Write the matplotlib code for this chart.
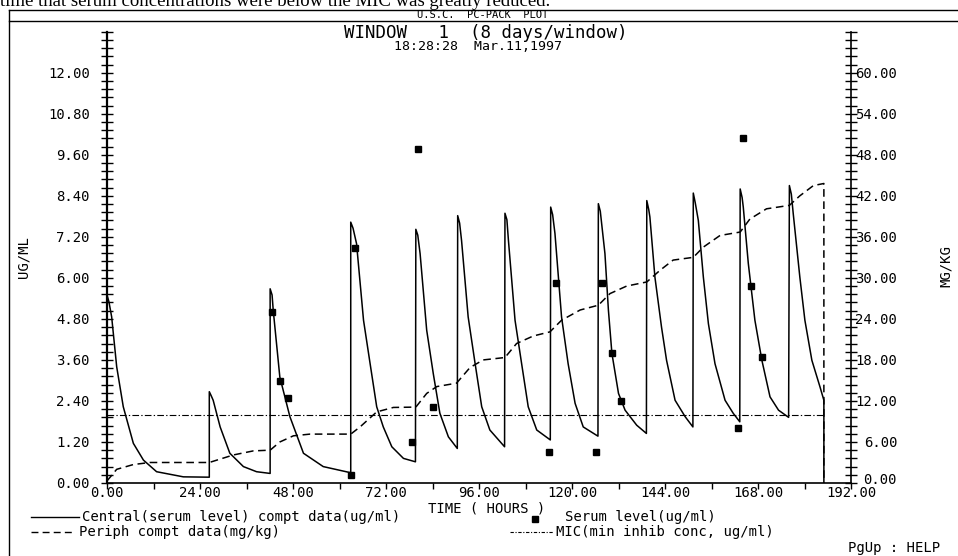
import numpy as np
import matplotlib.pyplot as plt
from matplotlib.lines import Line2D
from matplotlib.ticker import MultipleLocator, FuncFormatter

# central compartment (serum level), ug/ml
central_t = [0, 0, 0.5, 1.2, 2.5, 4.2, 6.8, 9.4, 12.8, 19.7, 26.4,
             26.4, 26.9, 27.4, 29.2, 31.7, 35.2, 38.6, 42.1,
             42.1, 42.6, 42.9, 44.6, 47.2, 50.7, 55.8, 62.9,
             62.9, 63.5, 64.4, 66.2, 67.9, 69.6, 71.3, 73.5, 76.5, 79.6,
             79.7, 80.2, 80.8, 82.5, 84.2, 85.9, 88.1, 90.4,
             90.5, 91.0, 91.5, 93.2, 95.0, 96.7, 98.8, 102.6,
             102.7, 103.2, 103.6, 105.3, 107.0, 108.7, 110.9, 114.4,
             114.5, 115.0, 115.6, 117.3, 119.0, 120.8, 122.9, 126.7,
             126.8, 127.3, 128.5, 129.4, 130.3, 132.0, 133.7, 136.7, 139.2,
             139.3, 139.8, 140.1, 141.4, 143.1, 144.4, 146.6, 149.2, 151.2,
             151.3, 151.8, 152.6, 153.9, 155.2, 156.9, 159.5, 161.6, 163.3,
             163.4, 163.9, 164.2, 165.5, 167.2, 169.0, 171.1, 173.3, 175.9,
             176.1, 176.6, 177.1, 178.8, 180.1, 181.9, 184.0, 185.0, 185.0]
central_v = [0, 5.50, 5.30, 4.86, 3.40, 2.23, 1.16, 0.67, 0.33, 0.18, 0.17,
             2.67, 2.55, 2.42, 1.64, 0.87, 0.48, 0.33, 0.28,
             5.68, 5.50, 5.05, 3.10, 1.94, 0.87, 0.48, 0.30,
             7.63, 7.45, 7.00, 4.76, 3.49, 2.23, 1.64, 1.06, 0.72, 0.62,
             7.42, 7.25, 6.71, 4.47, 3.20, 2.04, 1.35, 1.01,
             7.82, 7.60, 7.09, 4.86, 3.49, 2.23, 1.55, 1.06,
             7.89, 7.70, 7.09, 4.76, 3.49, 2.23, 1.55, 1.26,
             8.07, 7.85, 7.30, 4.86, 3.49, 2.33, 1.64, 1.37,
             8.17, 7.95, 6.71, 5.05, 3.79, 2.62, 2.13, 1.69, 1.45,
             8.26, 8.00, 7.78, 6.02, 4.56, 3.59, 2.42, 1.94, 1.64,
             8.48, 8.20, 7.68, 6.02, 4.66, 3.49, 2.42, 2.04, 1.79,
             8.60, 8.35, 8.07, 6.42, 4.76, 3.59, 2.52, 2.13, 1.92,
             8.70, 8.45, 7.87, 6.02, 4.76, 3.59, 2.81, 2.42, 0]

# peripheral compartment, mg/kg (right axis)
periph_t = [0, 2.5, 6.8, 11.1, 19.7, 26.4, 32.6, 37.8, 42.1, 44.6, 48.1, 52.4,
            62.9, 65.3, 69.6, 73.9, 79.7, 82.5, 85.1, 90.2, 93.7, 97.1, 102.7,
            105.7, 110.0, 114.3, 117.3, 122.1, 126.8, 129.8, 134.1, 139.3,
            142.7, 146.1, 151.3, 153.9, 158.2, 163.4, 165.9, 170.2, 176.1,
            178.8, 182.3, 185.0, 185.0]
periph_v = [0.3, 2.0, 2.7, 3.0, 3.0, 3.0, 4.1, 4.7, 4.8, 6.0, 6.9, 7.15,
            7.15, 8.2, 10.4, 11.05, 11.1, 13.1, 14.1, 14.6, 16.9, 18.0, 18.35,
            20.4, 21.5, 22.1, 23.8, 25.3, 26.0, 27.7, 28.8, 29.4,
            31.1, 32.6, 33.0, 34.5, 36.2, 36.7, 38.6, 40.1, 40.6,
            42.0, 43.5, 43.8, 0]

# measured serum levels
serum_t = [42.7, 44.6, 46.7, 63.0, 64.0, 78.6, 80.3, 84.2, 114.1, 115.8,
           126.1, 127.8, 130.4, 132.6, 162.9, 164.2, 166.1, 169.1]
serum_v = [5.00, 2.98, 2.50, 0.22, 6.88, 1.19, 9.77, 2.21, 0.91, 5.86,
           0.91, 5.86, 3.79, 2.40, 1.60, 10.08, 5.76, 3.69]

mic_t = [0, 185]
mic_v = [2.0, 2.0]

W, H = 958, 556
MONO = 'DejaVu Sans Mono'
fs = 10

fig = plt.figure(figsize=(W / 100, H / 100), dpi=100)


def fx(px):
    return px / W


def fy(py):
    return 1 - py / H


def lab_left(v, pos):
    return '' if v > 12.5 else '%.2f' % v


def lab_right(v, pos):
    # the zero label is drawn separately, a bit higher
    return '' if (v > 62.5 or v < 0.5) else '%.2f' % v


ax = fig.add_axes([fx(107), fy(483), fx(851) - fx(107), fy(31.7) - fy(483)])
ax2 = ax.twinx()

ax.plot(central_t, central_v, color='black', lw=1.1)
ax.plot(mic_t, mic_v, color='black', lw=0.8, dashes=(6, 2, 1.2, 2))
ax.plot(serum_t, serum_v, 's', color='black', ms=5, mec='black')
ax2.plot(periph_t, periph_v, color='black', lw=1.1, dashes=(5, 3))

ax.set_xlim(0, 192)
ax.set_ylim(0, 13.2)
ax2.set_ylim(0, 66)

for s in ['top', 'right']:
    ax.spines[s].set_visible(False)
for s in ['top', 'left', 'bottom']:
    ax2.spines[s].set_visible(False)
ax.spines['left'].set_linewidth(1.6)
ax.spines['bottom'].set_linewidth(1.2)
ax2.spines['right'].set_linewidth(1.2)

ax.yaxis.set_major_locator(MultipleLocator(1.2))
ax.yaxis.set_minor_locator(MultipleLocator(0.24))
ax.yaxis.set_major_formatter(FuncFormatter(lab_left))
ax.tick_params(axis='y', which='both', direction='inout', length=8.6, width=1.0, pad=8)
ax.tick_params(axis='y', labelsize=fs)

ax2.yaxis.set_major_locator(MultipleLocator(6))
ax2.yaxis.set_minor_locator(MultipleLocator(1.2))
ax2.yaxis.set_major_formatter(FuncFormatter(lab_right))
ax2.tick_params(axis='y', which='both', direction='inout', length=8.6, width=1.0, pad=29)
ax2.tick_params(axis='y', labelsize=fs)
for lab in ax2.get_yticklabels():
    lab.set_horizontalalignment('right')
ax2.annotate('0.00', xy=(1, 0), xycoords='axes fraction', xytext=(46, 4),
             textcoords='offset pixels', ha='right', va='center_baseline',
             family=MONO, fontsize=fs)

ax.xaxis.set_major_locator(MultipleLocator(24))
ax.xaxis.set_minor_locator(MultipleLocator(12))
ax.xaxis.set_major_formatter(FuncFormatter(lambda v, p: '%.2f' % v))
ax.tick_params(axis='x', which='both', direction='out', length=4, width=1.0, pad=-1.5)
ax.tick_params(axis='x', labelsize=fs)

for t in ax.get_xticklabels() + ax.get_yticklabels() + ax2.get_yticklabels():
    t.set_family(MONO)

# frame of the screen
fig.add_artist(Line2D([fx(9), 1], [fy(9.5), fy(9.5)], color='black', lw=1.0))
fig.add_artist(Line2D([fx(9), 1], [fy(21), fy(21)], color='black', lw=1.0))
fig.add_artist(Line2D([fx(9), fx(9)], [fy(9.5), 0], color='black', lw=1.0))

fig.text(0.0, fy(5.5), 'time that serum concentrations were below the MIC was greatly reduced.',
         family='Liberation Serif', fontsize=13.5, va='baseline', ha='left')
fig.text(fx(483), fy(15.5), 'U.S.C.  PC-PACK  PLOT', family=MONO, fontsize=7.5, ha='center', va='center')
fig.text(fx(486), fy(33), 'WINDOW   1  (8 days/window)', family=MONO, fontsize=12.5, ha='center', va='center')
fig.text(fx(478), fy(47), '18:28:28  Mar.11,1997', family=MONO, fontsize=9.5, ha='center', va='center')

fig.text(fx(24), fy(257), 'UG/ML', family=MONO, fontsize=fs, rotation=90, ha='center', va='center')
fig.text(fx(946), fy(266), 'MG/KG', family=MONO, fontsize=fs, rotation=90, ha='center', va='center')

fig.text(fx(487), fy(508), 'TIME ( HOURS )', family=MONO, fontsize=fs, ha='center', va='center')

# legend
fig.add_artist(Line2D([fx(31), fx(79)], [fy(517), fy(517)], color='black', lw=1.0))
fig.text(fx(82), fy(517), 'Central(serum level) compt data(ug/ml)', family=MONO, fontsize=fs, va='center')
fig.add_artist(Line2D([fx(535)], [fy(519)], marker='s', color='black', ms=5))
fig.text(fx(565), fy(517), 'Serum level(ug/ml)', family=MONO, fontsize=fs, va='center')
fig.add_artist(Line2D([fx(31), fx(73)], [fy(532), fy(532)], color='black', lw=1.0, dashes=(5, 3)))
fig.text(fx(79), fy(532), 'Periph compt data(mg/kg)', family=MONO, fontsize=fs, va='center')
fig.add_artist(Line2D([fx(510), fx(553)], [fy(532), fy(532)], color='black', lw=0.8, dashes=(3, 1.5, 1, 1.5)))
fig.text(fx(556), fy(532), 'MIC(min inhib conc, ug/ml)', family=MONO, fontsize=fs, va='center')
fig.text(fx(940), fy(548), 'PgUp : HELP', family=MONO, fontsize=fs, ha='right', va='center')

fig.savefig('out.png', dpi=100)
